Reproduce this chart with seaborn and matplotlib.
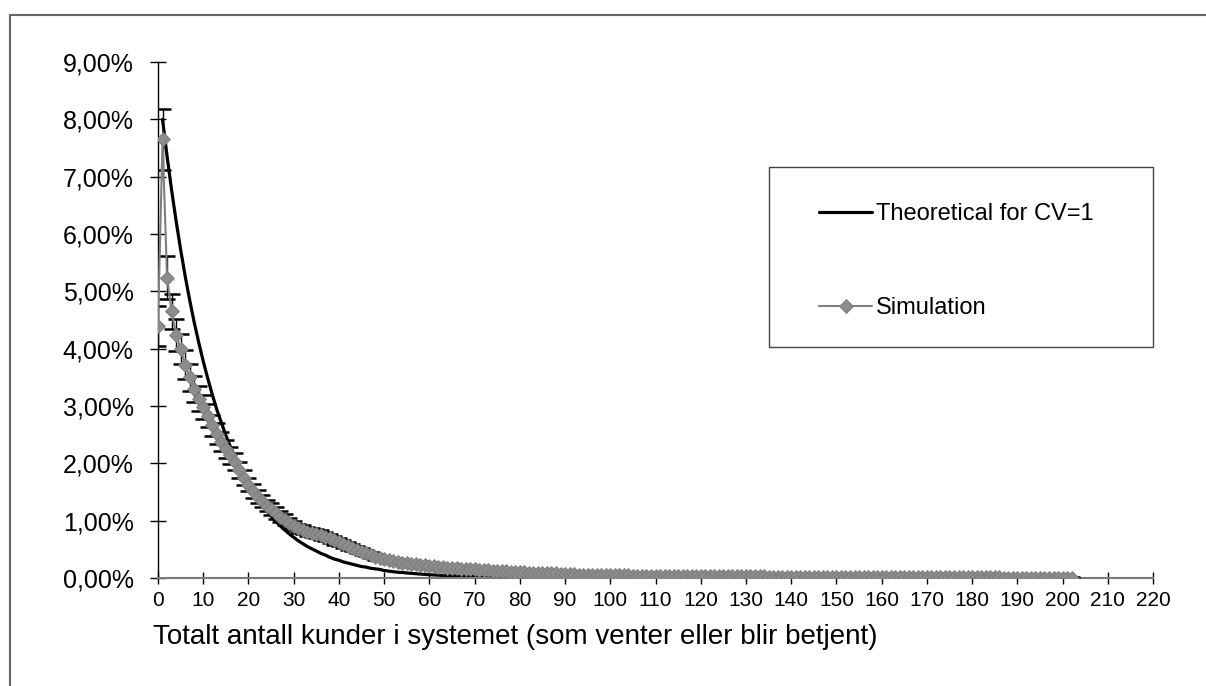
import matplotlib
matplotlib.use("Agg")
import matplotlib.pyplot as plt
from matplotlib.patches import Rectangle
from matplotlib.ticker import FuncFormatter
import numpy as np
import pandas as pd
import seaborn as sns

# ---------------- data (percent) ----------------
theo_x = list(range(1, 91))
theo_pct = [8.00, 7.36, 6.77, 6.23, 5.73, 5.27, 4.85, 4.46, 4.11, 3.78,
            3.48, 3.20, 2.94, 2.71, 2.49, 2.29, 2.11, 1.94, 1.78, 1.64,
            1.51, 1.39, 1.28, 1.17, 1.08, 0.99, 0.91, 0.84, 0.77, 0.71,
            0.65, 0.60, 0.55, 0.51, 0.47, 0.43, 0.40, 0.36, 0.33, 0.31,
            0.28, 0.26, 0.24, 0.22, 0.20, 0.19, 0.17, 0.16, 0.15, 0.13,
            0.12, 0.11, 0.10, 0.096, 0.088, 0.081, 0.075, 0.069, 0.063, 0.058,
            0.053, 0.049, 0.045, 0.042, 0.038, 0.035, 0.032, 0.030, 0.027, 0.025,
            0.023, 0.021, 0.020, 0.018, 0.017, 0.015, 0.014, 0.013, 0.012, 0.011,
            0.010, 0.009, 0.008, 0.008, 0.007, 0.006, 0.006, 0.005, 0.005, 0.004]

sim_x = list(range(0, 203))
sim_pct = [4.40, 7.65, 5.24, 4.65, 4.24, 4.00, 3.72, 3.50, 3.30, 3.13,
           2.98, 2.83, 2.66, 2.52, 2.38, 2.25, 2.14, 2.03, 1.88, 1.75,
           1.63, 1.52, 1.42, 1.34, 1.26, 1.20, 1.13, 1.07, 1.02, 0.96,
           0.91, 0.87, 0.84, 0.81, 0.79, 0.77, 0.75, 0.72, 0.69, 0.66,
           0.62, 0.59, 0.56, 0.53, 0.49, 0.46, 0.43, 0.40, 0.37, 0.35,
           0.33, 0.31, 0.30, 0.28, 0.27, 0.26, 0.25, 0.24, 0.23, 0.22,
           0.21, 0.21, 0.20, 0.19, 0.18, 0.18, 0.17, 0.16, 0.16, 0.15,
           0.15, 0.14, 0.14, 0.14, 0.13, 0.13, 0.12, 0.12, 0.11, 0.11,
           0.10, 0.10, 0.09, 0.09, 0.09, 0.09, 0.08, 0.08, 0.08, 0.07,
           0.07, 0.07, 0.07, 0.06, 0.06, 0.06, 0.06, 0.06, 0.05, 0.05,
           0.05, 0.05, 0.05, 0.05, 0.05, 0.04, 0.04, 0.04, 0.04, 0.04,
           0.04, 0.04, 0.04, 0.04, 0.04, 0.04, 0.04, 0.04, 0.04, 0.04,
           0.04, 0.04, 0.03, 0.03, 0.03, 0.03, 0.03, 0.03, 0.03, 0.03,
           0.03, 0.03, 0.03, 0.03, 0.03, 0.02, 0.02, 0.02, 0.02, 0.02,
           0.02, 0.02, 0.02, 0.02, 0.02, 0.02, 0.02, 0.02, 0.02, 0.02,
           0.02, 0.02, 0.02, 0.02, 0.02, 0.01, 0.01, 0.01, 0.01, 0.01,
           0.01, 0.01, 0.01, 0.01, 0.01, 0.01, 0.01, 0.01, 0.01, 0.01,
           0.01, 0.01, 0.01, 0.01, 0.01, 0.01, 0.01, 0.01, 0.01, 0.01,
           0.01, 0.01, 0.01, 0.01, 0.01, 0.01, 0.01, 0.00, 0.00, 0.00,
           0.00, 0.00, 0.00, 0.00, 0.00, 0.00, 0.00, 0.00, 0.00, 0.00,
           0.00, 0.00, 0.00]

sim_err = [0.35, 0.53, 0.37, 0.30, 0.28, 0.26, 0.25, 0.24, 0.23, 0.22,
           0.21, 0.20, 0.19, 0.18, 0.17, 0.16, 0.15, 0.15, 0.14, 0.13,
           0.12, 0.12, 0.11, 0.11, 0.10, 0.10, 0.10, 0.09, 0.09, 0.09,
           0.08, 0.08, 0.08, 0.08, 0.08, 0.08, 0.08, 0.08, 0.08, 0.08,
           0.07, 0.07, 0.07, 0.06, 0.06, 0.06, 0.05, 0.05, 0.05, 0.04,
           0.04, 0.04, 0.04, 0.04, 0.03, 0.03, 0.03, 0.03, 0.03, 0.03,
           0.02, 0.02, 0.02, 0.02, 0.02, 0.02, 0.02, 0.02, 0.02, 0.02,
           0.02, 0.02, 0.02, 0.02, 0.02, 0.02, 0.02, 0.02, 0.02, 0.02,
           0.02, 0.02, 0.02, 0.02, 0.02, 0.02, 0.02, 0.02, 0.02, 0.02,
           0.01, 0.01, 0.01, 0.01, 0.01, 0.01, 0.01, 0.01, 0.01, 0.01,
           0.01, 0.01, 0.01, 0.01, 0.01, 0.01, 0.01, 0.01, 0.01, 0.01,
           0.01, 0.01, 0.01, 0.01, 0.01, 0.01, 0.01, 0.01, 0.01, 0.01,
           0.01, 0.01, 0.01, 0.01, 0.01, 0.01, 0.01, 0.01, 0.01, 0.01,
           0.01, 0.01, 0.01, 0.01, 0.01, 0.01, 0.01, 0.01, 0.01, 0.01,
           0.01, 0.01, 0.01, 0.01, 0.01, 0.01, 0.01, 0.01, 0.01, 0.01,
           0.01, 0.01, 0.01, 0.01, 0.01, 0.01, 0.01, 0.01, 0.01, 0.01,
           0.01, 0.01, 0.01, 0.01, 0.01, 0.01, 0.01, 0.01, 0.01, 0.01,
           0.01, 0.01, 0.01, 0.01, 0.01, 0.01, 0.01, 0.01, 0.01, 0.01,
           0.01, 0.01, 0.01, 0.01, 0.01, 0.01, 0.01, 0.01, 0.01, 0.01,
           0.01, 0.01, 0.01, 0.01, 0.01, 0.01, 0.01, 0.01, 0.01, 0.01,
           0.01, 0.01, 0.01]

x_ticks = list(range(0, 221, 10))
y_ticks = [0, 1, 2, 3, 4, 5, 6, 7, 8, 9]
x_label = "Totalt antall kunder i systemet (som venter eller blir betjent)"
theo_label = "Theoretical for CV=1"
sim_label = "Simulation"

# ---------------- style ----------------
sns.set_theme(style="white")
plt.rcParams["font.family"] = ["Liberation Sans", "DejaVu Sans"]

W, H = 1206, 686
fig = plt.figure(figsize=(W / 100, H / 100), dpi=100)
fig.patch.set_facecolor("white")

def fx(px):
    return px / W

def fy(py):
    return 1 - py / H

ax = fig.add_axes([fx(158), fy(578), fx(1153) - fx(158), fy(62) - fy(578)])
ax.set_facecolor("white")

df_theo = pd.DataFrame({"x": theo_x, "v": theo_pct})
df_sim = pd.DataFrame({"x": sim_x, "v": sim_pct, "e": sim_err})

sns.lineplot(data=df_theo, x="x", y="v", color="black", linewidth=2.3,
             label=theo_label, ax=ax, zorder=2)

ax.errorbar(df_sim["x"], df_sim["v"], yerr=df_sim["e"], fmt="none",
            ecolor="black", elinewidth=1.0, capsize=6.0, capthick=1.8, zorder=3)

sns.lineplot(data=df_sim, x="x", y="v", color="#7f7f7f", linewidth=1.5,
             marker="D", markersize=6.8, markerfacecolor="#8c8c8c",
             markeredgecolor="#7a7a7a", markeredgewidth=0.6,
             label=sim_label, ax=ax, zorder=4)

ax.set_xlim(0, 220)
ax.set_ylim(0, 9)
ax.set_xticks(x_ticks)
ax.set_yticks(y_ticks)
ax.yaxis.set_major_formatter(FuncFormatter(lambda v, p: f"{v:.2f}%".replace(".", ",")))
ax.set_xlabel("")
ax.set_ylabel("")

for s in ["top", "right"]:
    ax.spines[s].set_visible(False)
ax.spines["left"].set_color("black")
ax.spines["left"].set_linewidth(1.0)
ax.spines["bottom"].set_color("#7a7a7a")
ax.spines["bottom"].set_linewidth(1.5)
ax.grid(False)

ax.tick_params(axis="y", direction="inout", length=11, width=1.0, color="black",
               labelsize=18, pad=12, labelcolor="black", left=True)
ax.tick_params(axis="x", direction="inout", length=8, width=1.0, color="black",
               labelsize=15, pad=5, labelcolor="black", bottom=True)

fig.text(fx(153), fy(637), x_label, fontsize=20, ha="left", va="center", color="black")

# legend
leg = ax.legend(loc="upper left", bbox_to_anchor=(fx(819), fy(203)),
                bbox_transform=fig.transFigure, frameon=False, fontsize=17,
                handlelength=2.25, handletextpad=0.15, labelspacing=3.05,
                borderpad=0, borderaxespad=0)
for t in leg.get_texts():
    t.set_color("black")

fig.add_artist(Rectangle((fx(769), fy(347)), fx(1153) - fx(769), fy(167) - fy(347),
                         transform=fig.transFigure, fill=False,
                         edgecolor="#444444", linewidth=1.0, zorder=10))

# outer chart frame
fig.add_artist(Rectangle((fx(10), -0.2), 1.2, fy(15) + 0.2,
                         transform=fig.transFigure, fill=False,
                         edgecolor="#666666", linewidth=1.5, zorder=10))

fig.savefig("out.png", dpi=100, facecolor="white")
